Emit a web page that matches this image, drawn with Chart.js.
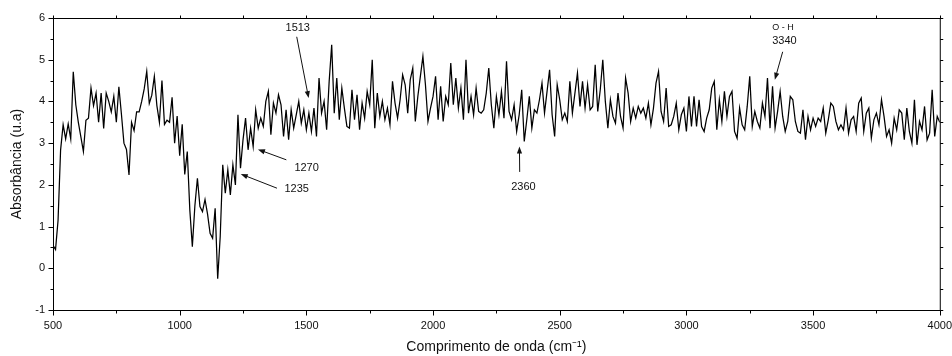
<!DOCTYPE html>
<html>
<head>
<meta charset="utf-8">
<script src="https://cdn.jsdelivr.net/npm/chart.js@4"></script>
<style>
  html, body { margin: 0; padding: 0; background: #fff; }
  #c { display: block; }
</style>
</head>
<body>
<canvas id="c" width="952" height="356"></canvas>
<script>
// ---- data ----
const waveStart = 500;   // cm-1, first sample
const waveStep = 10;     // cm-1, sampling interval
const absorbance = [
  0.55, 0.45, 1.15, 2.84, 3.44, 3.1, 3.46, 3.1, 4.71, 3.92,
  3.5, 3.15, 2.8, 3.55, 3.6, 4.32, 3.9, 4.2, 3.5, 4.2,
  3.35, 4.2, 4.0, 3.75, 4.12, 3.5, 4.35, 3.7, 3.0, 2.85,
  2.24, 3.5, 3.3, 3.75, 3.75, 4.0, 4.3, 4.72, 3.95, 4.15,
  4.6, 3.9, 3.5, 4.5, 3.45, 3.55, 3.5, 4.1, 3.0, 3.65,
  2.7, 3.45, 2.25, 2.8, 1.4, 0.52, 1.5, 2.16, 1.48, 1.36,
  1.65, 1.3, 0.84, 0.72, 1.44, -0.25, 0.76, 2.48, 1.8, 2.36,
  1.76, 2.48, 2.0, 3.68, 2.4, 3.08, 3.6, 2.84, 3.36, 2.92,
  3.8, 3.36, 3.6, 3.4, 4.0, 4.24, 3.2, 3.96, 3.72, 4.16,
  3.92, 3.16, 3.8, 3.08, 3.8, 3.36, 3.68, 4.0, 3.48, 3.8,
  3.32, 3.72, 3.28, 3.84, 3.16, 4.56, 3.72, 4.0, 3.32, 4.48,
  5.36, 3.72, 4.56, 3.56, 4.32, 3.84, 3.4, 3.36, 4.28, 3.56,
  4.16, 3.32, 3.96, 3.6, 4.24, 3.92, 5.0, 3.36, 4.2, 3.64,
  4.0, 3.56, 3.84, 3.44, 4.48, 3.96, 3.6, 4.04, 4.64, 4.4,
  3.72, 4.52, 4.8, 3.52, 4.12, 4.6, 5.08, 4.4, 3.52, 3.84,
  4.12, 4.6, 3.56, 4.36, 3.52, 4.12, 3.92, 4.92, 3.92, 4.56,
  3.84, 4.32, 3.56, 5.0, 3.72, 4.12, 3.68, 4.32, 3.76, 3.72,
  3.8, 4.2, 4.8, 3.92, 3.36, 4.12, 3.68, 4.24, 3.6, 4.96,
  3.76, 3.56, 3.92, 3.28, 3.68, 4.28, 3.04, 3.56, 4.12, 3.36,
  3.8, 3.72, 4.04, 4.44, 3.72, 4.24, 4.76, 3.68, 3.16, 4.4,
  4.04, 3.56, 3.72, 3.52, 4.48, 3.72, 4.2, 4.68, 3.88, 4.48,
  3.84, 4.4, 3.8, 3.88, 4.88, 3.76, 4.28, 5.0, 4.0, 3.36,
  4.04, 3.64, 3.48, 4.2, 3.64, 3.36, 4.56, 4.2, 3.52, 3.84,
  3.6, 3.88, 3.72, 3.84, 3.6, 3.96, 3.44, 3.84, 4.44, 4.72,
  3.76, 3.52, 4.32, 3.4, 3.44, 3.64, 3.96, 3.32, 3.68, 3.84,
  3.28, 4.12, 3.4, 4.12, 3.4, 4.04, 3.4, 3.28, 3.6, 3.8,
  4.32, 4.48, 3.32, 4.04, 3.52, 4.24, 3.64, 4.12, 4.24, 3.28,
  3.12, 3.84, 3.44, 3.32, 3.88, 4.6, 3.4, 3.76, 3.52, 3.36,
  3.96, 3.64, 4.56, 3.36, 4.36, 3.36, 3.76, 4.24, 3.64, 3.28,
  3.52, 4.12, 4.04, 3.52, 3.28, 3.24, 3.8, 3.08, 3.64, 3.32,
  3.6, 3.4, 3.6, 3.52, 3.84, 3.24, 3.56, 3.96, 3.88, 3.52,
  3.32, 3.44, 3.32, 3.84, 3.24, 3.56, 3.64, 3.28, 3.96, 4.08,
  3.28, 3.72, 3.84, 3.12, 3.56, 3.72, 3.44, 4.04, 3.64, 3.16,
  3.32, 3.0, 3.6, 3.32, 3.8, 3.72, 3.08, 3.84, 3.28, 3.0,
  4.04, 2.96, 3.52, 3.32, 3.88, 3.08, 3.24, 4.28, 3.16, 3.64,
  3.5
];

// tick values
const xMajorTicks = [500, 1000, 1500, 2000, 2500, 3000, 3500, 4000];
const xMinorTicks = [750, 1250, 1750, 2250, 2750, 3250, 3750];
const yMajorTicks = [-1, 0, 1, 2, 3, 4, 5, 6];
const yMinorTicks = [-0.5, 0.5, 1.5, 2.5, 3.5, 4.5, 5.5];

// annotation labels (text, anchor in data units; arrow from -> to)
const annotationTexts = ['1513', '1270', '1235', '2360', 'O - H', '3340'];
const annotationLayout = [
  { tx: 1466, ty: 5.76, size: 11, from: [1462, 5.55], to: [1509, 4.08] },
  { tx: 1501, ty: 2.40, size: 11, from: [1421, 2.60], to: [1309, 2.85] },
  { tx: 1462, ty: 1.90, size: 11, from: [1384, 1.92], to: [1241, 2.26] },
  { tx: 2357, ty: 1.95, size: 11, from: [2342, 2.31], to: [2341, 2.92] },
  { tx: 3381, ty: 5.76, size: 9 },
  { tx: 3387, ty: 5.46, size: 11, from: [3380, 5.19], to: [3349, 4.52] }
];

const points = absorbance.map((v, i) => ({ x: waveStart + i * waveStep, y: v }));
const FONT = '"Liberation Sans", Arial, Helvetica, sans-serif';

const framePlugin = {
  id: 'frame',
  afterDatasetsDraw(chart) {
    const { ctx, chartArea: a, scales: { x, y } } = chart;
    ctx.save();
    ctx.strokeStyle = '#000';
    ctx.lineWidth = 1;
    ctx.strokeRect(a.left + 0.5, a.top + 0.5, a.right - a.left, a.bottom - a.top);
    ctx.beginPath();
    const hx = (v, len, top) => {
      const px = Math.round(x.getPixelForValue(v)) + 0.5;
      if (top) { ctx.moveTo(px, a.top + 0.5); ctx.lineTo(px, a.top + 0.5 - len); }
      else { ctx.moveTo(px, a.bottom + 0.5); ctx.lineTo(px, a.bottom + 0.5 + len); }
    };
    const vy = (v, len, right) => {
      const py = Math.round(y.getPixelForValue(v)) + 0.5;
      if (right) { ctx.moveTo(a.right + 0.5, py); ctx.lineTo(a.right + 0.5 + len, py); }
      else { ctx.moveTo(a.left + 0.5, py); ctx.lineTo(a.left + 0.5 - len, py); }
    };
    xMajorTicks.forEach(v => { hx(v, 5, false); hx(v, 3, true); });
    xMinorTicks.forEach(v => { hx(v, 3, false); hx(v, 3, true); });
    yMajorTicks.forEach(v => { vy(v, 5, false); vy(v, 3, true); });
    yMinorTicks.forEach(v => { vy(v, 3, false); vy(v, 3, true); });
    ctx.stroke();

    // annotations
    ctx.fillStyle = '#111';
    ctx.strokeStyle = '#111';
    ctx.textAlign = 'center';
    ctx.textBaseline = 'middle';
    annotationTexts.forEach((t, i) => {
      const L = annotationLayout[i];
      ctx.font = L.size + 'px ' + FONT;
      ctx.fillText(t, x.getPixelForValue(L.tx), y.getPixelForValue(L.ty));
      if (L.from) {
        const x0 = x.getPixelForValue(L.from[0]), y0 = y.getPixelForValue(L.from[1]);
        const x1 = x.getPixelForValue(L.to[0]), y1 = y.getPixelForValue(L.to[1]);
        const ang = Math.atan2(y1 - y0, x1 - x0);
        const hl = 7, hw = 2.6;
        ctx.lineWidth = 1;
        ctx.beginPath();
        ctx.moveTo(x0, y0);
        ctx.lineTo(x1 - Math.cos(ang) * hl * 0.8, y1 - Math.sin(ang) * hl * 0.8);
        ctx.stroke();
        ctx.beginPath();
        ctx.moveTo(x1, y1);
        ctx.lineTo(x1 - Math.cos(ang) * hl - Math.sin(ang) * hw, y1 - Math.sin(ang) * hl + Math.cos(ang) * hw);
        ctx.lineTo(x1 - Math.cos(ang) * hl + Math.sin(ang) * hw, y1 - Math.sin(ang) * hl - Math.cos(ang) * hw);
        ctx.closePath();
        ctx.fill();
      }
    });
    ctx.restore();
  }
};

new Chart(document.getElementById('c'), {
  type: 'line',
  data: {
    datasets: [{
      data: points,
      borderColor: '#000',
      borderWidth: 1.25,
      pointRadius: 0,
      tension: 0,
      fill: false
    }]
  },
  options: {
    responsive: false,
    animation: false,
    events: [],
    layout: { padding: { left: 0, right: 0, top: 18, bottom: 0 } },
    plugins: { legend: { display: false }, tooltip: { enabled: false } },
    scales: {
      x: {
        type: 'linear',
        min: 500, max: 4000,
        afterBuildTicks: s => { s.ticks = xMajorTicks.map(v => ({ value: v })); },
        afterFit: s => { s.height = 46; },
        grid: { display: false, drawTicks: true, tickLength: 9 },
        border: { display: false },
        ticks: { padding: 0, color: '#111', maxRotation: 0, autoSkip: false, callback: v => String(v), font: { family: FONT, size: 11 } },
        title: { display: true, text: 'Comprimento de onda (cm\u207B\u00B9)', color: '#111', padding: { top: 0, bottom: 0 }, font: { family: FONT, size: 14 } }
      },
      y: {
        type: 'linear',
        min: -1, max: 6,
        afterBuildTicks: s => { s.ticks = yMajorTicks.map(v => ({ value: v })); },
        afterFit: s => { s.width = 53; },
        grid: { display: false, drawTicks: true, tickLength: 8 },
        border: { display: false },
        ticks: { padding: 0, color: '#111', callback: v => String(v), font: { family: FONT, size: 11 } },
        title: { display: true, text: 'Absorbância (u.a)', color: '#111', padding: { top: 9, bottom: 0 }, font: { family: FONT, size: 14 } }
      }
    }
  },
  plugins: [framePlugin]
});
</script>
</body>
</html>
